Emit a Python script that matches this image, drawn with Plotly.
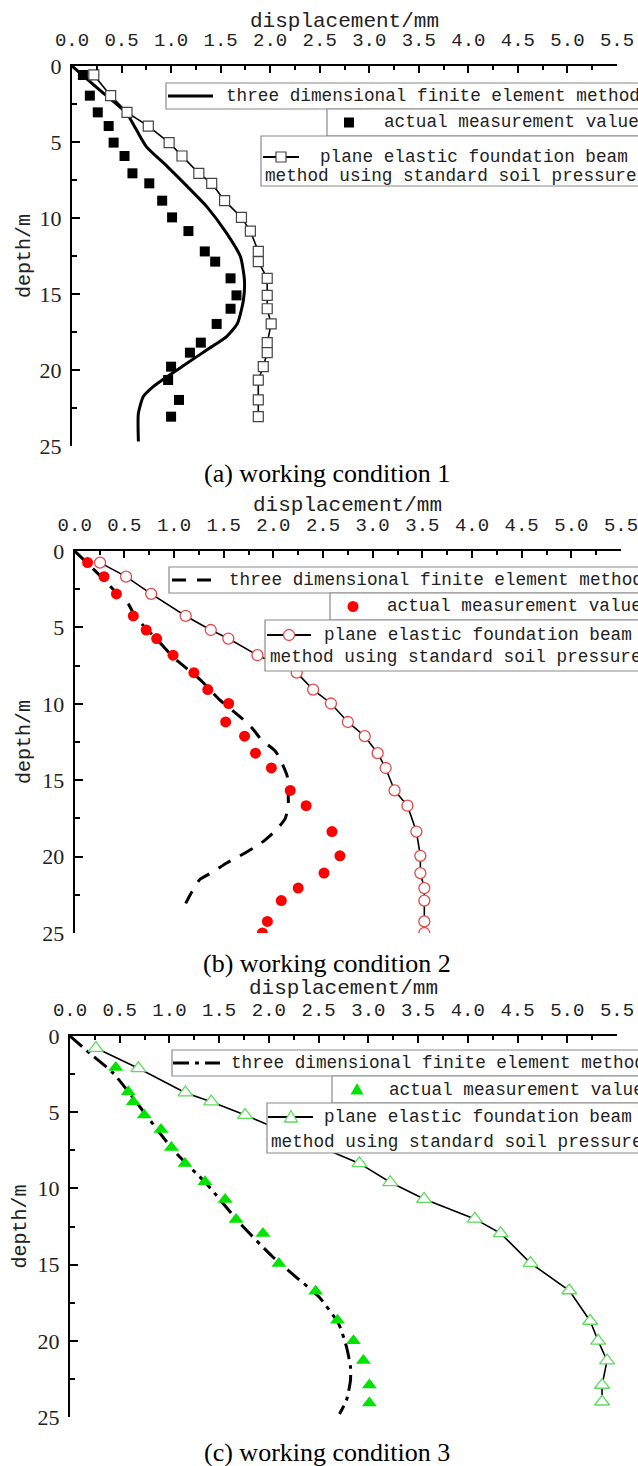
import plotly.graph_objects as go

W, H = 638, 1466

# ---------------- data ----------------
# (a) working condition 1
depth1 = [0.59, 1.95, 3.05, 3.95, 5.04, 5.92, 7.06, 7.72, 8.86, 9.96, 10.86, 12.2, 12.87,
          13.97, 15.09, 15.97, 16.97, 18.2, 18.86, 19.78, 20.66, 21.97, 23.07]
meas1 = [0.11, 0.18, 0.26, 0.37, 0.42, 0.53, 0.61, 0.78, 0.91, 1.01, 1.175, 1.34, 1.445,
         1.60, 1.66, 1.60, 1.46, 1.30, 1.19, 1.00, 0.97, 1.08, 1.00]
plane1 = [0.22, 0.39, 0.555, 0.77, 0.98, 1.11, 1.28, 1.41, 1.54, 1.71, 1.80, 1.88, 1.88,
          1.97, 1.97, 1.97, 2.01, 1.97, 1.97, 1.93, 1.88, 1.88, 1.88]
fem1_depth = [0, 1.58, 3.1, 4.2, 5.3, 6.6, 7.9, 9.25, 11.0, 12.55, 14.08, 15.4, 16.93, 17.8,
              18.68, 19.56, 20.44, 21.1, 21.75, 22.85, 24.7]
fem1 = [0, 0.28, 0.55, 0.65, 0.75, 0.96, 1.16, 1.36, 1.56, 1.70, 1.74, 1.73, 1.67, 1.56,
        1.36, 1.16, 0.96, 0.82, 0.72, 0.67, 0.67]

# (b) working condition 2
depth2 = [0.76, 1.68, 2.81, 4.25, 5.17, 5.73, 6.82, 7.96, 9.07, 9.98, 11.19, 12.12, 13.23,
          14.2, 15.67, 16.67, 18.36, 19.95, 21.08, 22.06, 22.88, 24.24, 25.0]
meas2 = [0.13, 0.295, 0.42, 0.59, 0.72, 0.825, 0.99, 1.20, 1.34, 1.55, 1.52, 1.71, 1.82,
         1.98, 2.17, 2.33, 2.59, 2.67, 2.51, 2.25, 2.08, 1.94, 1.89]
plane2 = [0.255, 0.517, 0.77, 1.117, 1.37, 1.547, 1.84, 2.235, 2.40, 2.58, 2.75, 2.92, 3.05,
          3.13, 3.22, 3.35, 3.44, 3.48, 3.48, 3.52, 3.52, 3.52, 3.52]
fem2_depth = [0, 1.9, 2.88, 3.47, 4.3, 5.8, 7.0, 8.4, 9.0, 9.74, 11.05, 11.7, 12.36, 13.1,
              13.8, 14.76, 16.06, 16.6, 17.5, 18.24, 19.0, 19.44, 20.0, 20.42, 20.97, 21.5,
              22.3, 23.15]
fem2 = [0, 0.30, 0.44, 0.54, 0.61, 0.83, 1.0, 1.26, 1.35, 1.46, 1.70, 1.80, 1.88, 2.02,
        2.08, 2.14, 2.15, 2.15, 2.12, 2.03, 1.90, 1.80, 1.65, 1.53, 1.40, 1.26, 1.18, 1.11]

# (c) working condition 3
meas3_depth = [2.06, 3.66, 4.31, 5.19, 6.13, 7.31, 8.36, 9.57, 10.73, 12.04, 12.96, 14.93,
               16.75, 18.65, 20.0, 21.3, 22.9, 24.08]
meas3 = [0.46, 0.586, 0.636, 0.747, 0.915, 1.02, 1.156, 1.357, 1.56, 1.67, 1.94, 2.10,
         2.47, 2.69, 2.85, 2.95, 3.01, 3.01]
plane3_depth = [0.79, 2.12, 3.72, 4.31, 5.19, 8.36, 9.6, 10.7, 12.0, 12.95, 14.9, 16.7,
                18.7, 20.0, 21.3, 22.9, 24.0]
plane3 = [0.26, 0.687, 1.16, 1.42, 1.76, 2.91, 3.22, 3.56, 4.07, 4.33, 4.63, 5.02, 5.23,
          5.31, 5.40, 5.35, 5.35]
fem3_depth = [0, 1.14, 2.45, 7.49, 9.68, 12.3, 14.5, 15.8, 17.1, 18.87, 20.4, 21.7, 22.6,
              23.9, 24.8]
fem3 = [0, 0.2, 0.436, 1.04, 1.37, 1.71, 2.04, 2.27, 2.50, 2.70, 2.78, 2.82, 2.82, 2.78, 2.71]

x_ticks = [0.0, 0.5, 1.0, 1.5, 2.0, 2.5, 3.0, 3.5, 4.0, 4.5, 5.0, 5.5]
y_ticks = [0, 5, 10, 15, 20, 25]
captions = ["(a) working condition 1", "(b) working condition 2", "(c) working condition 3"]
leg_fem = "three dimensional finite element method"
leg_meas = "actual measurement value"
leg_plane1 = "plane elastic foundation beam"
leg_plane2 = "method using standard soil pressure"
x_title = "displacement/mm"
y_title = "depth/m"


def px(x):
    return x / W


def py(y):
    return 1 - y / H


MONO = "Liberation Mono"
SERIF = "Liberation Serif"
TXT = "#222222"

fig = go.Figure()

# panel pixel geometry: (x_left, x_right, y_top, y_bottom)
panels = [(72, 617, 66, 446), (74.7, 621, 551, 933), (70, 617, 1036, 1417)]

# ---------------- traces ----------------
# panel 1
fig.add_trace(go.Scatter(x=fem1, y=fem1_depth, mode="lines", line=dict(color="black", width=3, shape="spline", smoothing=0.6),
                         xaxis="x", yaxis="y", showlegend=False))
fig.add_trace(go.Scatter(x=plane1, y=depth1, mode="lines+markers", line=dict(color="black", width=1.6),
                         marker=dict(symbol="square", size=10, color="white", line=dict(color="#444444", width=1.2)),
                         xaxis="x", yaxis="y", showlegend=False))
fig.add_trace(go.Scatter(x=meas1, y=depth1, mode="markers",
                         marker=dict(symbol="square", size=10, color="black"),
                         xaxis="x", yaxis="y", showlegend=False))
# panel 2
fig.add_trace(go.Scatter(x=fem2, y=fem2_depth, mode="lines",
                         line=dict(color="black", width=3, dash="14px,11px", shape="spline", smoothing=0.6),
                         xaxis="x2", yaxis="y2", showlegend=False))
fig.add_trace(go.Scatter(x=plane2, y=depth2, mode="lines+markers", line=dict(color="black", width=1.6),
                         marker=dict(symbol="circle", size=11, color="white", line=dict(color="#e84848", width=1.3)),
                         xaxis="x2", yaxis="y2", showlegend=False))
fig.add_trace(go.Scatter(x=meas2, y=depth2, mode="markers",
                         marker=dict(symbol="circle", size=11, color="#ff0000"),
                         xaxis="x2", yaxis="y2", showlegend=False))
# panel 3
fig.add_trace(go.Scatter(x=fem3, y=fem3_depth, mode="lines",
                         line=dict(color="black", width=3, dash="16px,6px,4px,6px", shape="spline", smoothing=0.6),
                         xaxis="x3", yaxis="y3", showlegend=False))
fig.add_trace(go.Scatter(x=plane3, y=plane3_depth, mode="lines+markers", line=dict(color="black", width=1.6),
                         marker=dict(symbol="triangle-up", size=13, color="white", line=dict(color="#5edc5e", width=1.3)),
                         xaxis="x3", yaxis="y3", showlegend=False))
fig.add_trace(go.Scatter(x=meas3, y=meas3_depth, mode="markers",
                         marker=dict(symbol="triangle-up", size=13, color="#00e400"),
                         xaxis="x3", yaxis="y3", showlegend=False))

# ---------------- axes ----------------
layout = dict(width=W, height=H, margin=dict(l=0, r=0, t=0, b=0), autosize=False,
              paper_bgcolor="white", plot_bgcolor="white", showlegend=False)
for i, (xl, xr, yt, yb) in enumerate(panels):
    sfx = "" if i == 0 else str(i + 1)
    layout["xaxis" + sfx] = dict(
        domain=[px(xl), px(xr)], anchor="y" + sfx, side="top", range=[0, 5.5],
        tickmode="array", tickvals=x_ticks, ticktext=[f"{v:.1f}" for v in x_ticks],
        ticks="inside", ticklen=7, tickwidth=1.5, tickcolor="black",
        minor=dict(dtick=0.25, ticks="inside", ticklen=4, tickwidth=1.5, tickcolor="black"),
        showline=True, linewidth=2, linecolor="black", showgrid=False, zeroline=False,
        tickfont=dict(family=MONO, size=19, color=TXT), ticklabelstandoff=10,
        ticklabeloverflow="allow", automargin=False)
    layout["yaxis" + sfx] = dict(
        domain=[py(yb), py(yt)], anchor="x" + sfx, range=[25, 0],
        tickmode="array", tickvals=y_ticks,
        ticks="inside", ticklen=8, tickwidth=1.5, tickcolor="black",
        minor=dict(dtick=2.5, ticks="inside", ticklen=5, tickwidth=1.5, tickcolor="black"),
        showline=True, linewidth=2, linecolor="black", showgrid=False, zeroline=False,
        tickfont=dict(family=SERIF, size=22, color=TXT), ticklabelstandoff=4,
        ticklabeloverflow="allow", automargin=False)
fig.update_layout(**layout)

annotations = []
shapes = []

# axis titles and captions
title_y = [21, 506, 988]
ytitle_x = [24, 24, 20]
cap_y = [473, 963, 1452]
for i, (xl, xr, yt, yb) in enumerate(panels):
    annotations.append(dict(text=x_title, x=px((xl + xr) / 2), y=py(title_y[i]), xref="paper", yref="paper",
                            xanchor="center", yanchor="middle", showarrow=False,
                            font=dict(family=MONO, size=21, color=TXT)))
    annotations.append(dict(text=y_title, x=px(ytitle_x[i]), y=py((yt + yb) / 2), xref="paper", yref="paper",
                            xanchor="center", yanchor="middle", showarrow=False, textangle=-90,
                            font=dict(family=MONO, size=20, color=TXT)))
    annotations.append(dict(text=captions[i], x=px(327), y=py(cap_y[i]), xref="paper", yref="paper",
                            xanchor="center", yanchor="middle", showarrow=False,
                            font=dict(family=SERIF, size=26, color="black")))

# ---------------- legend boxes ----------------
leg = [
    dict(b1l=166, b1t=83, b1b=109, l0=168, l1=213, t1=224,
         b2l=327, b2b=136, m2=349, t2=382,
         b3l=261, b3b=186, s0=263, s1=299, s3=281, t3=318, t3b=263, y3a=157, y3b=176,
         dash="solid", kind="square"),
    dict(b1l=169, b1t=567, b1b=593, l0=172, l1=217, t1=227,
         b2l=330, b2b=620, m2=353, t2=385,
         b3l=265, b3b=671, s0=267, s1=311, s3=289, t3=322, t3b=268, y3a=635, y3b=657,
         dash="14px,11px", kind="circle"),
    dict(b1l=172, b1t=1050, b1b=1076, l0=173, l1=220, t1=229,
         b2l=332, b2b=1103, m2=357, t2=387,
         b3l=267, b3b=1153, s0=268, s1=313, s3=291, t3=322, t3b=269, y3a=1117, y3b=1142,
         dash="16px,6px,4px,6px", kind="triangle"),
]
BOX = dict(color="#8a8a8a", width=1.2)
LF = dict(family=MONO, size=17.7, color=TXT)
for g in leg:
    shapes.append(dict(type="rect", xref="paper", yref="paper", x0=px(g["b1l"]), x1=px(720),
                       y0=py(g["b1b"]), y1=py(g["b1t"]), fillcolor="white", line=BOX, layer="above"))
    shapes.append(dict(type="rect", xref="paper", yref="paper", x0=px(g["b2l"]), x1=px(720),
                       y0=py(g["b2b"]), y1=py(g["b1b"]), fillcolor="white", line=BOX, layer="above"))
    shapes.append(dict(type="rect", xref="paper", yref="paper", x0=px(g["b3l"]), x1=px(720),
                       y0=py(g["b3b"]), y1=py(g["b2b"]), fillcolor="white", line=BOX, layer="above"))
    yc1 = (g["b1t"] + g["b1b"]) / 2
    shapes.append(dict(type="line", xref="paper", yref="paper", x0=px(g["l0"]), x1=px(g["l1"]),
                       y0=py(yc1), y1=py(yc1), line=dict(color="black", width=3, dash=g["dash"]), layer="above"))
    annotations.append(dict(text=leg_fem, x=px(g["t1"]), y=py(yc1), xref="paper", yref="paper",
                            xanchor="left", yanchor="middle", showarrow=False, font=LF))
    yc2 = (g["b1b"] + g["b2b"]) / 2
    m = g["m2"]
    if g["kind"] == "square":
        shapes.append(dict(type="rect", xref="paper", yref="paper", x0=px(m - 5), x1=px(m + 5),
                           y0=py(yc2 + 5), y1=py(yc2 - 5), fillcolor="black", line=dict(width=0), layer="above"))
    elif g["kind"] == "circle":
        shapes.append(dict(type="circle", xref="paper", yref="paper", x0=px(m - 5.5), x1=px(m + 5.5),
                           y0=py(yc2 + 5.5), y1=py(yc2 - 5.5), fillcolor="#ff0000", line=dict(width=0), layer="above"))
    else:
        path = f"M{px(m-6.5)},{py(yc2+5)} L{px(m+6.5)},{py(yc2+5)} L{px(m)},{py(yc2-6.5)} Z"
        shapes.append(dict(type="path", xref="paper", yref="paper", path=path,
                           fillcolor="#00e400", line=dict(width=0), layer="above"))
    annotations.append(dict(text=leg_meas, x=px(g["t2"]), y=py(yc2), xref="paper", yref="paper",
                            xanchor="left", yanchor="middle", showarrow=False, font=LF))
    ya = g["y3a"]
    shapes.append(dict(type="line", xref="paper", yref="paper", x0=px(g["s0"]), x1=px(g["s1"]),
                       y0=py(ya), y1=py(ya), line=dict(color="black", width=2), layer="above"))
    s = g["s3"]
    if g["kind"] == "square":
        shapes.append(dict(type="rect", xref="paper", yref="paper", x0=px(s - 5), x1=px(s + 5),
                           y0=py(ya + 5), y1=py(ya - 5), fillcolor="white",
                           line=dict(color="#444444", width=1.2), layer="above"))
    elif g["kind"] == "circle":
        shapes.append(dict(type="circle", xref="paper", yref="paper", x0=px(s - 5.5), x1=px(s + 5.5),
                           y0=py(ya + 5.5), y1=py(ya - 5.5), fillcolor="white",
                           line=dict(color="#e84848", width=1.3), layer="above"))
    else:
        path = f"M{px(s-6.5)},{py(ya+5)} L{px(s+6.5)},{py(ya+5)} L{px(s)},{py(ya-6.5)} Z"
        shapes.append(dict(type="path", xref="paper", yref="paper", path=path, fillcolor="white",
                           line=dict(color="#5edc5e", width=1.3), layer="above"))
    annotations.append(dict(text=leg_plane1, x=px(g["t3"]), y=py(ya), xref="paper", yref="paper",
                            xanchor="left", yanchor="middle", showarrow=False, font=LF))
    annotations.append(dict(text=leg_plane2, x=px(g["t3b"]), y=py(g["y3b"]), xref="paper", yref="paper",
                            xanchor="left", yanchor="middle", showarrow=False, font=LF))

fig.update_layout(annotations=annotations, shapes=shapes)
fig.write_html("out.html")
